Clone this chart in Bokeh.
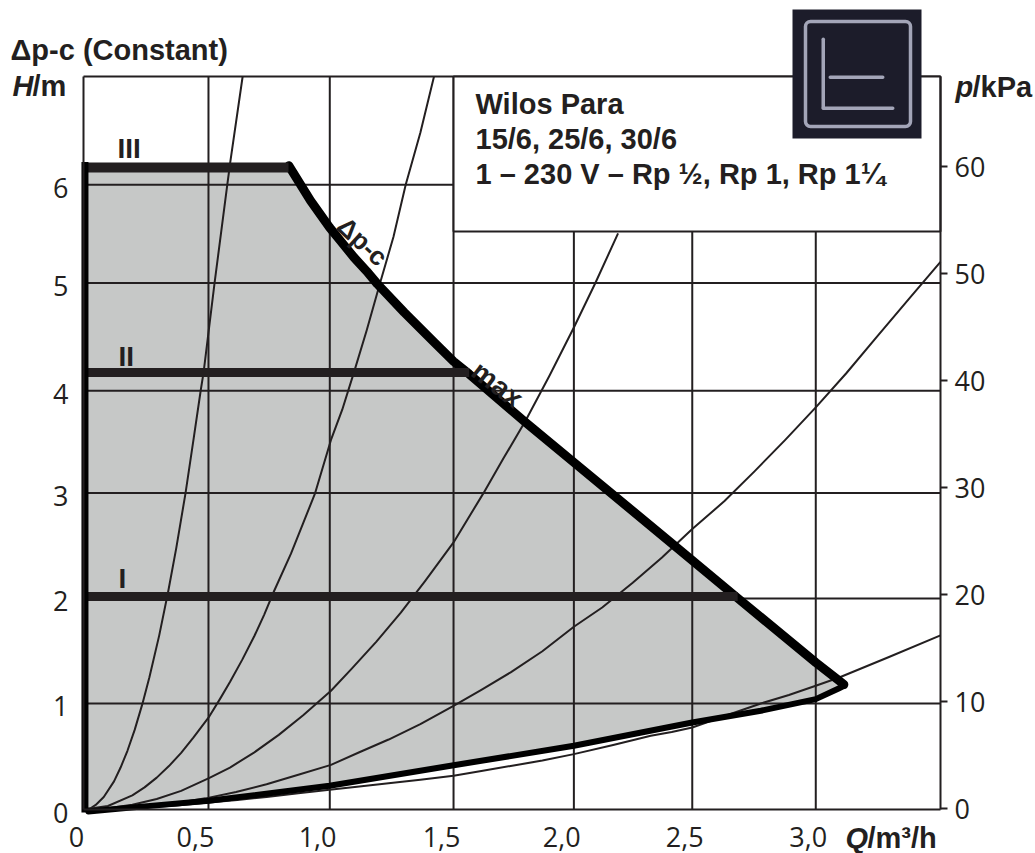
from bokeh.plotting import figure
from bokeh.core.properties import value
from bokeh.models import Range1d, LinearAxis, FixedTicker, BoxAnnotation
from bokeh.embed import file_html
from bokeh.resources import INLINE

# ---- data (Q in m3/h, H in m) ----
x_grid = [0.512, 1.009, 1.516, 2.009, 2.494, 3.0]
y_grid = [1.018, 2.027, 3.039, 4.022, 5.057, 6.0]
kpa_ticks = [0, 10, 20, 30, 40, 50, 60]

x_labels = ["0", "0,5", "1,0", "1,5", "2,0", "2,5", "3,0"]
x_label_pos = [-0.029, 0.459, 0.959, 1.467, 1.959, 2.463, 2.969]
y_labels = ["0", "1", "2", "3", "4", "5", "6"]
y_label_pos = [-0.03, 0.99, 2.0, 3.01, 3.99, 5.03, 5.97]

c1_q = [0, 0.029, 0.05, 0.083, 0.125, 0.152, 0.18, 0.21, 0.241, 0.27, 0.31, 0.347, 0.38, 0.418, 0.452, 0.480, 0.492, 0.537, 0.589, 0.602, 0.652]
c1_h = [0, 0.012, 0.044, 0.12, 0.27, 0.403, 0.564, 0.767, 1.012, 1.27, 1.67, 2.094, 2.51, 3.039, 3.574, 4.022, 4.198, 5.057, 6.00, 6.23, 7.04]
c2_q = [0, 0.1, 0.2, 0.25, 0.3, 0.35, 0.4, 0.45, 0.512, 0.56, 0.6, 0.65, 0.7, 0.74, 0.78, 0.85, 0.9, 0.949, 1.015, 1.06, 1.108, 1.16, 1.215, 1.27, 1.320, 1.38, 1.436]
c2_h = [0, 0.034, 0.136, 0.2125, 0.306, 0.417, 0.544, 0.69, 0.882, 1.065, 1.224, 1.437, 1.666, 1.87, 2.094, 2.457, 2.75, 3.039, 3.558, 3.84, 4.198, 4.6, 5.057, 5.5, 6.0, 6.5, 7.04]
c3_q = [0, 0.1, 0.2, 0.3, 0.4, 0.514, 0.6, 0.7, 0.8, 0.9, 1.014, 1.1, 1.2, 1.3, 1.4, 1.516, 1.638, 1.72, 1.811, 1.91, 2.009, 2.097, 2.190]
c3_h = [0, 0.011, 0.045, 0.101, 0.179, 0.302, 0.403, 0.549, 0.717, 0.905, 1.14, 1.355, 1.613, 1.89, 2.195, 2.565, 3.036, 3.37, 3.734, 4.17, 4.63, 5.057, 5.533]
c4_q = [0, 0.125, 0.25, 0.375, 0.5, 0.625, 0.75, 0.88, 1.014, 1.13, 1.25, 1.38, 1.516, 1.63, 1.75, 1.88, 2.009, 2.125, 2.25, 2.37, 2.494, 2.625, 2.75, 2.875, 3.0, 3.125, 3.25, 3.38, 3.511]
c4_h = [0, 0.007, 0.027, 0.06, 0.107, 0.168, 0.242, 0.333, 0.429, 0.55, 0.672, 0.82, 0.996, 1.15, 1.317, 1.52, 1.755, 1.94, 2.177, 2.42, 2.694, 2.96, 3.25, 3.55, 3.862, 4.19, 4.54, 4.9, 5.26]
c5_q = [0, 0.12, 0.25, 0.38, 0.514, 0.63, 0.75, 0.88, 1.008, 1.13, 1.25, 1.38, 1.516, 1.63, 1.75, 1.88, 2.009, 2.17, 2.324, 2.41, 2.494, 2.63, 2.775, 2.89, 3.0, 3.096, 3.3, 3.511]
c5_h = [0, 0.005, 0.018, 0.038, 0.067, 0.092, 0.12, 0.155, 0.19, 0.22, 0.252, 0.285, 0.325, 0.37, 0.418, 0.47, 0.532, 0.62, 0.708, 0.745, 0.788, 0.90, 1.018, 1.1, 1.188, 1.268, 1.465, 1.672]
curves = [(c1_q, c1_h), (c2_q, c2_h), (c3_q, c3_h), (c4_q, c4_h), (c5_q, c5_h)]

max_q = [0.841, 0.930, 1.008, 1.05, 1.108, 1.16, 1.204, 1.314, 1.437, 1.516, 1.58, 1.811, 2.009, 2.434, 2.68, 3.0, 3.096, 3.115]
max_h = [6.183, 5.847, 5.591, 5.47, 5.303, 5.17, 5.047, 4.774, 4.486, 4.304, 4.182, 3.718, 3.334, 2.51, 2.03, 1.412, 1.236, 1.20]
low_q = [3.115, 3.11, 3.096, 3.0, 2.775, 2.494, 2.009, 1.504, 1.008, 0.514, 0.25, 0.02]
low_h = [1.20, 1.18, 1.165, 1.06, 0.948, 0.836, 0.612, 0.42, 0.228, 0.084, 0.03, -0.02]

speed_h = {"III": 6.167, "II": 4.198, "I": 2.046}
speed_qmax = {"III": 0.84, "II": 1.58, "I": 2.68}

Q_MAX, H_MAX = 3.511, 7.04
KPA_MIN, KPA_MAX = -0.065, 68.41

INK = "#231f20"
GREY = "#c6c8c7"
ICON_BG = "#1c1c2a"
ICON_FG = "#a3a5b8"
BOLD = "Liberation Sans"
REG = "Open Sans"

# The plotting frame fills the whole canvas (annotations and text would otherwise be
# clipped at the frame); the chart area itself is 83..940 x 76..809 page pixels.
W, H = 1035, 853
X_PX, Y_PX = 857 / Q_MAX, 733 / H_MAX
KPA_PX = 733 / (KPA_MAX - KPA_MIN)


def qx(px):
    return (px - 83) / X_PX


def hy(py):
    return (809 - py) / Y_PX


p = figure(width=W, height=H, output_backend="svg", toolbar_location=None,
           x_range=Range1d(qx(0), qx(W)), y_range=Range1d(hy(H), hy(0)),
           min_border=0, background_fill_color="white", border_fill_color="white",
           x_axis_type=None, y_axis_type=None)
p.outline_line_color = None
p.grid.visible = False
p.extra_y_ranges = {"kpa": Range1d(KPA_MIN - (H - 809) / KPA_PX, KPA_MAX + 76 / KPA_PX)}


def style_axis(ax, ticks, labels=None, standoff=7, tick_out=0):
    ax.ticker = FixedTicker(ticks=ticks)
    if labels is not None:
        ax.major_label_overrides = dict(zip(ticks, labels))
    ax.axis_line_color = INK
    ax.axis_line_width = 2
    ax.major_tick_line_color = INK if tick_out else None
    ax.major_tick_line_width = 2
    ax.major_tick_in = 0
    ax.major_tick_out = tick_out
    ax.minor_tick_line_color = None
    ax.major_label_standoff = standoff
    ax.major_label_text_font = REG
    ax.major_label_text_font_size = "27px"
    ax.major_label_text_color = INK


bax = LinearAxis(fixed_location=0, bounds=(0, Q_MAX))
style_axis(bax, x_label_pos, x_labels, standoff=17)
p.add_layout(bax, "below")
lax = LinearAxis(fixed_location=0, bounds=(0, H_MAX))
style_axis(lax, y_label_pos, y_labels, standoff=15)
p.add_layout(lax, "left")
rax = LinearAxis(fixed_location=Q_MAX, y_range_name="kpa", bounds=(KPA_MIN, KPA_MAX))
style_axis(rax, kpa_ticks, standoff=7, tick_out=7)
p.add_layout(rax, "right")

# operating region, below the grid
p.patch([0, 0.84] + max_q + low_q[1:], [6.167, 6.167] + max_h + low_h[1:],
        fill_color=GREY, line_color=None, level="image")

# grid rules and top edge of the chart
p.segment(x0=x_grid, y0=[0] * len(x_grid), x1=x_grid, y1=[H_MAX] * len(x_grid),
          line_color=INK, line_width=2, level="underlay")
p.segment(x0=[0] * len(y_grid), y0=y_grid, x1=[Q_MAX] * len(y_grid), y1=y_grid,
          line_color=INK, line_width=2, level="underlay")
p.segment(x0=[0], y0=[H_MAX], x1=[Q_MAX], y1=[H_MAX], line_color=INK, line_width=2)

for q, h in curves:
    p.line(q, h, line_color=INK, line_width=2, line_join="round")

# white caption box hides what lies behind it
p.quad(left=[1.516], right=[Q_MAX], bottom=[5.552], top=[H_MAX],
       fill_color="white", line_color=INK, line_width=2)

# thick boundaries
p.line(max_q, max_h, line_color="black", line_width=9, line_join="round", line_cap="round")
p.line(low_q, low_h, line_color="black", line_width=6, line_join="round", line_cap="round")
p.line([0, speed_qmax["III"]], [speed_h["III"]] * 2, line_color=INK, line_width=10)
p.line([0.015, speed_qmax["II"]], [speed_h["II"]] * 2, line_color=INK, line_width=9)
p.line([0.01, speed_qmax["I"]], [speed_h["I"]] * 2, line_color=INK, line_width=9)
p.line([0.006, 0.006], [-0.03, 6.22], line_color="black", line_width=7)


def lab(text, px, py, style="bold", size=29, font=BOLD, baseline="alphabetic", align="left", angle=0):
    # py is the wanted baseline; this renderer sets "alphabetic" text about a third of an em low
    if baseline == "alphabetic":
        py -= size * 0.34
    p.text(x=[qx(px)], y=[hy(py)], text=[text], angle=angle,
           text_font=value(font), text_font_style=style, text_font_size=value(f"{size}px"),
           text_color=INK, text_baseline=baseline, text_align=align)


lab("\u0394p-c (Constant)", 10, 59)
lab("H", 12, 95, style="bold italic")
lab("/m", 32, 95)
lab("p", 955, 96, style="bold italic")
lab("/kPa", 972, 96)
lab("Q", 845, 847, style="bold italic")
lab("/m\u00b3/h", 867, 847)
lab("Wilos Para", 475, 113)
lab("15/6, 25/6, 30/6", 475, 148)
lab("1 \u2013 230 V \u2013 Rp \u00bd, Rp 1, Rp 1\u00bc", 475, 183)
lab("III", 117, 158, size=28)
lab("II", 118, 366, size=28)
lab("I", 118, 588, size=28)
lab("\u0394p-c", 362, 241, size=26, baseline="middle", align="center", angle=-0.75)
lab("max", 497, 384, size=28, baseline="middle", align="center", angle=-0.66)


# icon in the top right corner
def box(l, r, t, b, fill=None, line=None, lw=0, radius=0):
    p.add_layout(BoxAnnotation(left=qx(l), right=qx(r), top=hy(t), bottom=hy(b),
                               fill_color=fill, fill_alpha=1 if fill else 0,
                               line_color=line, line_width=lw, line_alpha=1,
                               border_radius=radius))


box(792, 921, 9, 138, fill=ICON_BG)
box(805, 910, 21, 126, line=ICON_FG, lw=3.5, radius=5)
box(821, 824.5, 37, 109, fill=ICON_FG, radius=2)
box(821, 894, 106, 109.5, fill=ICON_FG, radius=2)
box(828, 884, 75, 78.5, fill=ICON_FG, radius=2)

open("out.html", "w").write(file_html(p, INLINE))
